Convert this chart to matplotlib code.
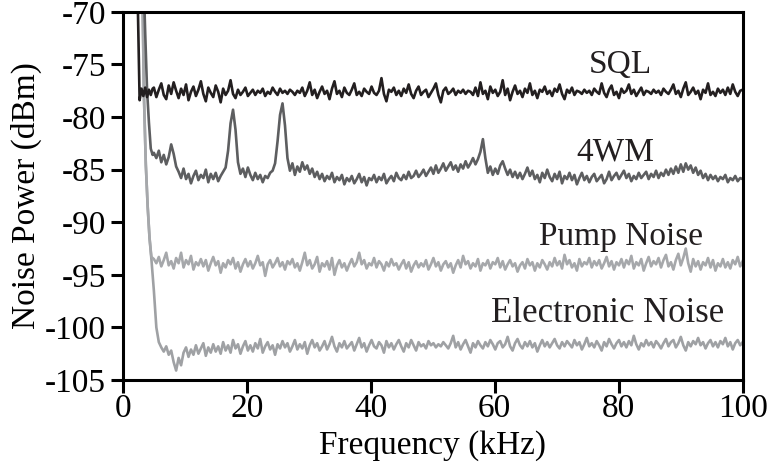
import matplotlib
matplotlib.use('Agg')
import matplotlib.pyplot as plt
import numpy as np

plt.rcParams['font.family'] = ['Liberation Serif', 'DejaVu Serif']
plt.rcParams['font.size'] = 24
plt.rcParams['axes.unicode_minus'] = False

# common frequency grid (kHz) for the flat part of every trace
freq = np.linspace(5, 100, 239)

# low-frequency roll-off of each trace (kHz, dBm)
sql_head_f = [2.3, 2.5, 2.7, 3.0, 3.3, 3.6, 3.9, 4.2, 4.5, 4.8]
sql_head = [-66.0, -72.0, -78.4, -77.3, -78.0, -77.2, -78.1, -77.4, -77.9, -77.3]
fwm_head_f = [3.3, 3.6, 3.9, 4.2, 4.5, 4.8]
fwm_head = [-66.0, -72.0, -77.4, -80.5, -83.0, -83.6]
pump_head_f = [3.0, 3.2, 3.4, 3.7, 4.0, 4.3, 4.6]
pump_head = [-64.0, -70.0, -78.0, -84.5, -88.5, -91.5, -93.3]
elec_head_f = [3.0, 3.2, 3.4, 3.7, 4.0, 4.3, 4.6]
elec_head = [-64.0, -70.0, -78.0, -84.5, -88.5, -91.5, -93.5]

sql = [
    -77.2, -78.1, -77.4, -76.8, -77.9, -78.3, -77.0, -77.8, -76.7, -77.5,
    -78.2, -77.3, -77.9, -76.9, -78.4, -77.6, -77.1, -78.0, -77.4, -76.6,
    -77.8, -78.5, -77.2, -77.7, -78.1, -77.0, -77.6, -78.6, -77.3, -77.9,
    -77.5, -76.5, -77.8, -78.2, -77.4, -77.9, -77.6, -77.2, -78.0, -77.7,
    -77.4, -77.9, -77.5, -77.7, -77.3, -78.0, -77.6, -77.8, -77.2, -77.6,
    -77.9, -77.3, -77.7, -77.5, -77.8, -77.4, -77.6, -77.9, -77.5, -77.7,
    -77.2, -78.0, -77.5, -76.7, -77.9, -77.4, -78.2, -77.6, -77.1, -77.8,
    -77.5, -78.3, -77.3, -76.6, -77.8, -77.5, -78.1, -77.2, -77.7, -77.9,
    -77.4, -76.8, -77.9, -77.6, -78.0, -77.3, -77.6, -77.8, -77.1, -77.7,
    -77.9, -77.5, -76.3, -77.8, -78.5, -77.4, -77.6, -77.2, -77.9, -77.5,
    -78.0, -77.3, -77.7, -76.9, -77.8, -78.2, -77.5, -77.1, -77.9, -77.6,
    -77.4, -78.1, -77.7, -77.3, -76.8, -77.9, -78.6, -77.5, -77.2, -77.8,
    -77.6, -77.3, -77.9, -77.5, -77.7, -77.4, -77.8, -77.5, -77.6, -77.9,
    -77.2, -78.0, -76.7, -77.8, -77.5, -78.3, -77.1, -77.7, -77.4, -78.0,
    -77.6, -76.5, -77.9, -77.3, -78.4, -77.6, -77.0, -77.8, -77.5, -78.1,
    -77.3, -77.7, -76.8, -77.9, -77.5, -78.2, -77.4, -77.6, -77.1, -77.8,
    -77.5, -78.0, -77.3, -77.6, -76.9, -77.8, -78.3, -77.4, -77.7, -77.2,
    -77.9, -77.5, -77.6, -77.8, -77.4, -77.7, -77.5, -77.9, -77.3, -77.6,
    -77.8, -76.8, -77.7, -78.1, -77.4, -77.0, -77.9, -77.6, -78.2, -77.3,
    -77.7, -77.5, -76.9, -77.8, -77.4, -78.0, -77.6, -77.2, -77.9, -77.5,
    -77.6, -77.8, -77.4, -77.7, -77.5, -77.9, -77.3, -77.6, -77.8, -77.4,
    -76.9, -77.8, -77.5, -78.1, -77.3, -76.7, -77.9, -77.6, -77.2, -77.8,
    -77.5, -78.3, -77.4, -77.7, -76.8, -77.9, -77.6, -78.0, -77.3, -77.7,
    -77.4, -77.9, -77.2, -77.8, -76.9, -77.6, -78.0, -77.5, -77.4]

fwm = [
    -83.4, -83.9, -83.2, -84.3, -83.6, -84.5, -83.8, -82.6, -83.5, -84.7,
    -85.2, -85.8, -84.9, -85.9, -85.4, -86.3, -85.6, -85.1, -86.0, -85.5,
    -85.8, -85.0, -86.2, -85.4, -85.9, -85.3, -86.1, -85.6, -85.2, -84.8,
    -83.2, -80.6, -79.3, -81.2, -84.3, -85.4, -84.9, -85.7, -84.8, -85.5,
    -86.0, -85.3, -85.9, -85.5, -86.2, -85.6, -85.8, -85.3, -85.1, -84.4,
    -82.3, -79.8, -78.7, -80.8, -83.9, -85.1, -84.4, -85.5, -84.7, -85.2,
    -84.3, -85.0, -84.6, -85.4, -84.9, -85.7, -85.2, -85.9, -85.4, -86.1,
    -85.6, -85.9, -85.3, -86.2, -85.7, -86.0, -85.5, -86.4, -85.8, -86.1,
    -85.6, -86.3, -85.9, -85.4, -86.2, -85.7, -86.5, -85.8, -86.0, -85.5,
    -86.2, -85.7, -86.0, -85.4, -86.3, -85.9, -85.6, -86.1, -85.3, -85.8,
    -86.0, -85.5, -85.9, -85.2, -85.8, -85.6, -85.1, -85.7, -85.4, -85.0,
    -85.6, -85.2, -84.8, -85.4, -84.6, -85.3, -84.9, -84.4, -85.1, -84.7,
    -84.3, -85.0, -84.6, -85.2, -84.5, -84.9, -84.2, -84.8, -84.4, -83.9,
    -84.5, -84.0, -83.3, -82.1, -83.9, -85.3, -84.7, -85.5, -84.9, -85.4,
    -84.6, -84.2, -84.9, -85.5, -85.0, -85.7, -85.2, -85.8, -85.3, -85.9,
    -85.4, -84.8, -85.6, -85.1, -85.9, -85.5, -86.2, -85.3, -85.8, -85.0,
    -85.7, -86.1, -85.4, -85.9, -85.2, -86.3, -85.6, -85.9, -85.3, -86.0,
    -85.5, -86.4, -85.8, -85.3, -86.0, -85.6, -86.2, -85.7, -85.4, -86.1,
    -85.8, -85.5, -86.3, -85.9, -85.2, -86.0, -85.6, -85.3, -85.9, -85.5,
    -85.1, -85.8, -85.4, -86.1, -85.6, -85.9, -85.3, -85.8, -85.5, -85.2,
    -85.9, -85.4, -85.7, -85.1, -85.8, -85.3, -85.6, -85.0, -85.5, -84.9,
    -85.4, -84.7, -85.3, -84.5, -85.2, -84.4, -85.0, -84.6, -85.3, -84.8,
    -85.5, -85.1, -85.8, -85.4, -86.0, -85.5, -85.9, -85.6, -86.1, -85.7,
    -85.9, -85.5, -86.2, -85.8, -86.0, -85.6, -86.1, -85.8, -85.9]

pump = [
    -93.5, -93.9, -93.3, -94.2, -93.6, -92.9, -94.1, -93.7, -94.4, -93.4,
    -93.9, -92.9, -94.3, -93.6, -94.0, -93.2, -94.5, -93.8, -94.1, -93.5,
    -94.2, -93.6, -94.6, -93.9, -93.3, -94.1, -93.7, -94.8, -93.9, -94.3,
    -93.6, -94.0, -93.4, -94.4, -93.8, -94.7, -94.0, -93.5, -94.2, -93.7,
    -94.4, -93.9, -93.2, -94.1, -93.8, -95.1, -94.0, -93.6, -94.3, -93.9,
    -93.4, -94.2, -93.8, -94.5, -93.7, -94.0, -93.5, -94.3, -93.9, -94.6,
    -93.8, -92.9, -94.1, -93.6, -94.4, -94.0, -93.3, -94.7, -93.9, -94.2,
    -93.7, -94.5, -93.4, -95.0, -94.1, -93.6, -94.3, -93.9, -94.6, -94.0,
    -93.5, -94.2, -93.8, -92.9, -94.0, -93.6, -94.4, -93.9, -94.1, -93.4,
    -94.3, -93.7, -94.0, -94.6, -93.8, -94.2, -93.5, -94.1, -93.9, -94.5,
    -94.0, -93.6, -94.4, -93.8, -94.7, -94.1, -93.7, -94.3, -93.9, -94.2,
    -93.6, -94.5, -94.0, -93.4, -94.2, -93.8, -94.6, -94.0, -93.7, -94.3,
    -93.9, -94.8, -94.1, -93.6, -94.3, -93.2, -94.0, -93.7, -94.4, -93.9,
    -94.2, -93.5, -94.6, -93.9, -94.1, -93.6, -94.4, -93.8, -94.0, -93.4,
    -94.3, -93.7, -94.5, -94.0, -93.6, -94.2, -93.9, -94.7, -94.1, -93.8,
    -94.4, -93.5, -94.1, -93.8, -94.6, -93.9, -94.3, -93.6, -94.0, -94.5,
    -93.8, -94.2, -93.4, -94.1, -93.7, -94.4, -93.1, -94.0, -93.6, -94.3,
    -93.9, -94.6, -93.5, -94.2, -93.8, -94.0, -93.4, -94.3, -93.7, -94.1,
    -93.6, -94.4, -93.9, -93.3, -94.2, -93.7, -94.5, -93.8, -94.1, -93.5,
    -94.3, -93.6, -94.0, -93.2, -94.4, -93.8, -94.1, -93.5, -94.6, -93.9,
    -93.3, -94.2, -93.7, -94.0, -93.4, -94.3, -93.6, -93.1, -94.2, -93.8,
    -94.5, -93.6, -93.0, -94.1, -93.4, -92.5, -93.9, -94.7, -93.5, -94.2,
    -93.7, -94.5, -93.8, -94.1, -93.4, -94.3, -93.6, -94.6, -93.9, -94.2,
    -93.5, -94.3, -93.8, -94.4, -93.6, -94.0, -93.3, -94.2, -93.7]

elec = [
    -96.5, -100.0, -101.4, -101.9, -102.3, -101.8, -102.6, -102.2, -103.3, -104.1,
    -102.9, -103.6, -102.4, -101.9, -102.8, -102.1, -102.6, -101.7, -102.5, -102.0,
    -101.5, -102.7, -101.9, -102.4, -101.6, -102.3, -101.8, -102.5, -101.4, -102.2,
    -101.7, -102.4, -101.2, -102.0, -101.6, -102.5, -101.8, -101.3, -102.2, -101.7,
    -102.3, -101.5, -102.0, -101.1, -102.4, -101.8, -101.4, -102.1, -101.7, -102.6,
    -101.6, -102.0, -101.3, -101.9, -101.5, -102.3, -101.8, -101.2, -102.1, -101.6,
    -102.0, -101.4, -102.5, -101.7, -101.2, -101.9, -101.5, -102.2, -101.8, -101.3,
    -102.1, -101.6, -100.9, -101.8, -102.3, -101.5, -101.9, -101.3, -102.0, -101.7,
    -101.4, -102.2, -101.6, -101.0, -101.9, -101.5, -102.3, -101.7, -101.2, -101.8,
    -102.0, -101.4, -101.7, -102.4, -101.3, -101.9, -101.5, -102.1, -101.6, -101.2,
    -101.8, -102.3, -101.5, -101.9, -101.2, -101.7, -102.2, -101.4, -101.8, -101.6,
    -102.0, -101.3, -101.7, -101.5, -101.9, -101.6, -101.8, -101.4, -101.7, -102.0,
    -101.5, -100.8, -101.9, -101.4, -102.1, -101.6, -101.2, -101.8, -102.4, -101.5,
    -101.9, -101.3, -101.7, -102.0, -101.4, -101.8, -101.2, -101.6, -102.1, -101.5,
    -101.3, -101.9, -101.6, -100.9, -101.8, -102.2, -101.5, -101.1, -101.7, -102.0,
    -101.4, -101.8, -101.3, -101.9, -101.5, -102.3, -101.7, -101.2, -101.8, -101.4,
    -101.9, -101.5, -101.1, -101.7, -102.0, -101.4, -101.8, -101.3, -101.6, -101.9,
    -101.2, -101.7, -101.4, -102.1, -101.6, -101.0, -101.8, -101.5, -101.9, -101.3,
    -101.7, -102.2, -101.4, -101.8, -101.1, -101.6, -102.0, -101.5, -101.2, -101.8,
    -101.4, -101.9, -101.3, -101.7, -100.8, -101.6, -102.1, -101.5, -101.8, -101.2,
    -101.7, -101.4, -101.9, -101.3, -101.6, -102.0, -101.5, -101.1, -101.8, -101.4,
    -101.2, -101.9, -101.5, -100.9, -101.7, -102.2, -101.4, -101.8, -101.3, -101.6,
    -101.0, -101.7, -101.4, -102.0, -101.5, -101.2, -101.8, -101.4, -101.9, -101.3,
    -101.6, -101.0, -101.8, -101.4, -102.1, -101.5, -101.2, -101.7, -101.4]

labels = ['SQL', '4WM', 'Pump Noise', 'Electronic Noise']
label_x = [80.3, 79.5, 80.3, 78.2]
label_y = [-75.0, -83.3, -91.4, -98.7]

fig = plt.figure(figsize=(7.68, 4.75), dpi=100)
ax = fig.add_axes([0.160, 0.200, 0.807, 0.775])

ax.plot(np.concatenate([elec_head_f, freq]), np.concatenate([elec_head, elec]), color='#9fa1a4', lw=1.9)
ax.plot(np.concatenate([pump_head_f, freq]), np.concatenate([pump_head, pump]), color='#a6a8ab', lw=1.9)
ax.plot(np.concatenate([fwm_head_f, freq]), np.concatenate([fwm_head, fwm]), color='#5d5e60', lw=1.9)
ax.plot(np.concatenate([sql_head_f, freq]), np.concatenate([sql_head, sql]), color='#231f20', lw=1.9)

for t, x, y in zip(labels, label_x, label_y):
    fs = 25 if t == 'Electronic Noise' else 24
    ax.text(x, y, t, ha='center', va='center', color='#231f20', fontsize=fs)

ax.set_xlim(0, 100)
ax.set_ylim(-105, -70)
ax.set_xticks([0, 20, 40, 60, 80, 100])
ax.set_yticks([-105, -100, -95, -90, -85, -80, -75, -70])
ax.tick_params(direction='out', length=9, width=2.2, top=False, right=False)
ax.tick_params(axis='x', pad=1)
ax.tick_params(axis='y', pad=3)
for s in ax.spines.values():
    s.set_linewidth(2.2)
ax.set_xlabel('Frequency (kHz)', labelpad=4)
ax.set_ylabel('Noise Power (dBm)', labelpad=2)

fig.savefig('out.png', dpi=100)
